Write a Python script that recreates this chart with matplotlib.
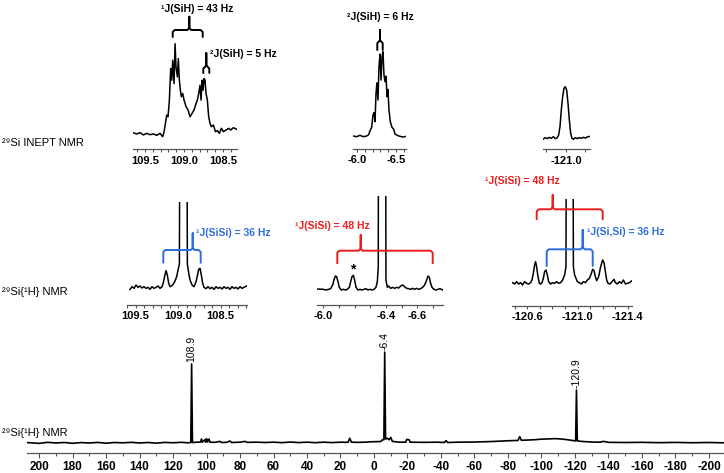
import matplotlib
matplotlib.use('Agg')
import matplotlib.pyplot as plt
from matplotlib.ticker import FixedLocator, MultipleLocator, FormatStrFormatter
import numpy as np

plt.rcParams['font.family'] = ['Liberation Sans', 'DejaVu Sans']
plt.rcParams['axes.unicode_minus'] = False

W, H = 724, 473

# 29Si INEPT, signal near 109 ppm
inept1_ppm = [109.658, 109.607, 109.564, 109.521, 109.479, 109.436, 109.393, 109.350, 109.308, 109.274,
              109.256, 109.239, 109.222, 109.205, 109.188, 109.171, 109.158, 109.145, 109.128, 109.115,
              109.103, 109.085, 109.073, 109.060, 109.047, 109.034, 109.017, 109.000, 108.974, 108.949,
              108.923, 108.897, 108.872, 108.846, 108.829, 108.812, 108.795, 108.782, 108.769, 108.756,
              108.744, 108.731, 108.718, 108.701, 108.684, 108.667, 108.650, 108.624, 108.598, 108.573,
              108.547, 108.521, 108.496, 108.462, 108.427, 108.402, 108.368, 108.325]
inept1_int = [0.004, -0.011, 0.004, -0.022, -0.004, -0.019, -0.011, -0.026, -0.004, -0.041,
              0.015, 0.107, 0.200, 0.181, 0.367, 0.719, 0.589, 0.811, 0.552, 0.996,
              0.737, 0.626, 0.830, 0.589, 0.478, 0.404, 0.441, 0.367, 0.293, 0.256,
              0.181, 0.219, 0.256, 0.330, 0.367, 0.441, 0.533, 0.367, 0.589, 0.478,
              0.607, 0.589, 0.441, 0.367, 0.181, 0.107, 0.070, 0.089, 0.015, 0.026,
              -0.004, 0.052, 0.015, 0.033, 0.052, 0.033, 0.059, 0.041]

# 29Si INEPT, signal near -6.4 ppm
inept2_ppm = [-5.953, -5.996, -6.038, -6.081, -6.124, -6.150, -6.167, -6.188, -6.205, -6.218,
              -6.231, -6.244, -6.256, -6.269, -6.282, -6.295, -6.308, -6.321, -6.333, -6.346,
              -6.359, -6.372, -6.385, -6.397, -6.410, -6.427, -6.449, -6.470, -6.487, -6.517,
              -6.551, -6.594, -6.628]
inept2_int = [0, -0.008, 0.008, -0.008, 0, 0.016, 0.063, 0.103, 0.249, 0.277,
              0.170, 0.506, 0.632, 0.427, 0.822, 0.972, 0.664, 0.941, 1.0, 0.723,
              0.644, 0.711, 0.466, 0.553, 0.308, 0.170, 0.103, 0.079, 0.024, 0.008,
              -0.004, -0.012, -0.004]

# 29Si INEPT, signal near -121 ppm
inept3_ppm = [-120.709, -120.735, -120.761, -120.786, -120.812, -120.838, -120.863, -120.889, -120.906, -120.923,
              -120.940, -120.957, -120.974, -120.991, -121.009, -121.026, -121.043, -121.060, -121.077, -121.094,
              -121.120, -121.145, -121.171, -121.197, -121.222, -121.248, -121.274, -121.308]
inept3_int = [-0.013, 0.013, -0.006, 0.019, 0, 0.032, -0.006, 0.013, 0.065, 0.226,
              0.548, 0.806, 0.968, 1.0, 0.935, 0.677, 0.355, 0.097, 0, -0.019,
              0.013, -0.006, 0.013, 0, 0.019, 0.006, 0.026, 0.039]

# 29Si{1H}, expansions (central lines run off scale)
dec1_ppm = [109.565, 109.541, 109.518, 109.494, 109.471, 109.447, 109.424, 109.400, 109.376, 109.353,
            109.329, 109.306, 109.282, 109.259, 109.235, 109.212, 109.188,
            109.173, 109.157, 109.141, 109.126, 109.110, 109.094, 109.078, 109.063, 109.039, 109.016, 109.000,
            108.984, 108.973, 108.902, 108.890,
            108.874, 108.859, 108.835, 108.812, 108.788, 108.773, 108.757, 108.741, 108.726, 108.710, 108.694, 108.671,
            108.647, 108.624, 108.600, 108.576, 108.553, 108.529, 108.506, 108.482, 108.459, 108.435,
            108.412, 108.388, 108.365, 108.341, 108.318, 108.294, 108.271, 108.247, 108.224,
            108.192]
dec1_int = [-0.03, 0.05, 0, 0.10, 0.03, 0.07, 0.01, 0.05, 0, 0.03, -0.03, 0.05, 0, 0.03, 0.07, 0, 0.05,
            0.17, 0.37, 0.53, 0.40, 0.15, 0.05, 0.07, 0.10, 0.20, 0.35, 0.55,
            0.73, 10, 10, 0.72,
            0.45, 0.25, 0.10, 0.05, 0.20, 0.37, 0.57, 0.60, 0.40, 0.15, 0.03, -0.01,
            0.05, -0.01, 0.03, -0.03, 0.05, 0, 0.03, -0.02, 0.05, 0,
            0.03, -0.03, 0.05, 0, 0.03, -0.02, 0.05, 0, 0.03,
            0.07]

dec2_ppm = [-5.960, -6.000, -6.017, -6.034, -6.047, -6.060, -6.068, -6.077, -6.085, -6.094, -6.102,
            -6.115, -6.128, -6.141, -6.153, -6.166, -6.175, -6.183, -6.192, -6.200, -6.209,
            -6.221, -6.234, -6.247, -6.260, -6.272, -6.285, -6.298, -6.311, -6.324, -6.336,
            -6.345, -6.351, -6.353, -6.396, -6.400, -6.409, -6.417, -6.430, -6.443, -6.455,
            -6.468, -6.481, -6.494, -6.507, -6.519, -6.532, -6.545, -6.558, -6.570, -6.583,
            -6.596, -6.609, -6.621, -6.634, -6.647, -6.660, -6.668, -6.677, -6.685, -6.694,
            -6.706, -6.719, -6.732, -6.745, -6.762]
dec2_int = [0.01, 0, -0.02, 0, 0.02, 0.13, 0.28, 0.40, 0.38, 0.23, 0.06,
            -0.02, 0, -0.02, 0, 0.06, 0.23, 0.38, 0.42, 0.28, 0.06,
            -0.02, 0, -0.02, 0, 0.02, -0.02, 0, -0.02, 0, 0.06,
            0.23, 0.68, 10, 10, 0.28, 0.06, 0.10, 0.03, 0.06, 0.03,
            0.06, 0.04, 0.10, 0.13, 0.08, 0.03, 0.02, 0, 0.03, 0,
            0.03, 0, 0.02, 0.06, 0.13, 0.28, 0.40, 0.36, 0.18, 0.06,
            0, -0.02, 0, 0.02, -0.02]

dec3_ppm = [-120.481, -120.497, -120.513, -120.529, -120.545, -120.561, -120.577, -120.593, -120.609, -120.625,
            -120.636, -120.647, -120.657, -120.665, -120.673, -120.684, -120.695, -120.705, -120.716, -120.727,
            -120.737, -120.748, -120.759, -120.769, -120.785, -120.801, -120.817, -120.833, -120.849, -120.865,
            -120.881, -120.897, -120.908, -120.913, -120.961, -120.967, -120.977, -120.988, -120.999, -121.015,
            -121.031, -121.047, -121.063, -121.079, -121.095, -121.111, -121.121, -121.132, -121.143, -121.153,
            -121.169, -121.185, -121.201, -121.212, -121.223, -121.233, -121.244, -121.260, -121.276, -121.292,
            -121.303, -121.319, -121.335, -121.351, -121.367, -121.383, -121.399, -121.415, -121.436]
dec3_int = [0.02, -0.02, 0.05, -0.02, 0.02, -0.05, 0.05, 0, -0.02, 0.02,
            0.10, 0.30, 0.55, 0.65, 0.50, 0.20, 0, -0.02, 0.02, 0.15,
            0.35, 0.40, 0.25, 0.05, -0.02, 0.02, 0, 0.05, 0, 0.02,
            0.10, 0.25, 0.50, 10, 10, 0.50, 0.25, 0.15, 0.05, 0.02,
            -0.02, 0.05, 0.02, 0.10, 0.15, 0.30, 0.42, 0.38, 0.20, 0.08,
            0.20, 0.50, 0.70, 0.62, 0.35, 0.10, 0, -0.02, 0.05, 0.12,
            0.02, -0.02, 0.05, 0, 0.10, -0.02, 0, 0.02, 0.08]

# full 29Si{1H} spectrum
full_ppm = [207, 200, 195, 190, 185, 180, 175, 170, 165, 160, 155, 150, 145, 140, 135, 130, 125, 120, 115, 111,
            109.4, 108.9, 108.4, 106, 103.5, 103, 102.5, 101, 100.5, 100, 99.5, 98.5, 98, 95, 92, 91,
            88, 86, 85, 80, 77, 76, 70, 65, 60, 55, 50, 45, 40, 35, 30, 25, 20, 15.5, 14.5, 13.5,
            10, 5, 2, -4, -5, -5.9, -6.4, -6.9, -8, -9, -10, -11, -15, -19, -19.5, -21, -21.5,
            -30, -38, -42, -43, -44, -50, -60, -70, -80, -86, -87, -88, -95, -100, -105, -108, -112,
            -116, -119, -120.4, -120.9, -121.4, -125, -130, -135, -137, -140, -150, -160, -170, -180,
            -190, -200, -209]
full_int = [0.005, -0.005, 0.008, 0, 0.006, -0.004, 0.005, 0, 0.007, -0.003, 0.006, 0.002, 0.008, 0, 0.006,
            -0.002, 0.007, 0.003, 0.008, 0.002,
            0.005, 1.0, 0.005, 0.01, 0.012, 0.05, 0.01, 0.04, 0.01, 0.055, 0.012, 0.05, 0.01, 0.008, 0.02, 0.006,
            0.008, 0.025, 0.006, 0.01, 0.02, 0.008, 0.01, 0.006, 0.01, 0.004, 0.012, 0.005, 0.01, 0.004, 0.01,
            0.005, 0.01, 0.008, 0.06, 0.01,
            0.008, 0.01, 0.015, 0.018, 0.04, 0.04, 1.15, 0.05, 0.06, 0.04, 0.07, 0.02, 0.01, 0.01, 0.045, 0.04, 0.01,
            0.008, 0.01, 0.006, 0.03, 0.006, 0.01, 0.012, 0.018, 0.028, 0.032, 0.08, 0.034, 0.04, 0.048, 0.052, 0.055, 0.05,
            0.04, 0.03, 0.026, 0.67, 0.026, 0.018, 0.012, 0.01, 0.02, 0.008, 0.006, 0.008, 0.004, 0.007,
            0.003, 0.006, 0.002]
full_labels = ['108.9', '-6.4', '-120.9']
full_label_ppm = [108.9, -6.4, -120.9]

RED = '#ee1c1c'
BLUE = '#2b6ee0'
AXC = '#555555'

fig = plt.figure(figsize=(W / 100, H / 100), dpi=100)


def panel(x0, x1, ytop, ybot, xlim, ylim, major, minor, fmt='%.1f', tick_px=3, lsize=8):
    ax = fig.add_axes([x0 / W, 1 - ybot / H, (x1 - x0) / W, (ybot - ytop) / H])
    ax.patch.set_alpha(0)
    for s in ('top', 'left', 'right'):
        ax.spines[s].set_visible(False)
    ax.spines['bottom'].set_color(AXC)
    ax.spines['bottom'].set_linewidth(0.9)
    ax.set_yticks([])
    ax.set_xlim(*xlim)
    ax.set_ylim(*ylim)
    ax.xaxis.set_major_locator(FixedLocator(major))
    if minor:
        ax.xaxis.set_minor_locator(MultipleLocator(minor))
    ax.xaxis.set_major_formatter(FormatStrFormatter(fmt))
    ax.tick_params(axis='x', which='both', direction='out', color=AXC, width=0.8,
                   length=tick_px * 0.72, pad=2.5, labelsize=lsize)
    for lab in ax.get_xticklabels():
        lab.set_fontweight('bold')
    return ax


# top row: INEPT
a = panel(132.7, 236.7, 35, 149.3, (109.658, 108.325), (-0.182, 1.093), [109.5, 109.0, 108.5], 0.1)
a.plot(inept1_ppm, inept1_int, color='black', lw=1.1)
b = panel(353.3, 406, 40, 149, (-5.953, -6.628), (-0.154, 1.139), [-6.0, -6.5], 0.1)
b.plot(inept2_ppm, inept2_int, color='black', lw=1.1)
c = panel(543.3, 590, 80, 149.3, (-120.709, -121.308), (-0.213, 1.13), [-120.75, -121.0, -121.25], None)
c.plot(inept3_ppm, inept3_int, color='black', lw=1.1)
c.set_xticklabels(['', '-121.0', ''])

# middle row: decoupled expansions
d = panel(126.7, 246.7, 201.7, 305, (109.604, 108.192), (-0.5, 2.6), [109.5, 109.0, 108.5], 0.1)
d.plot(dec1_ppm, dec1_int, color='black', lw=1.1)
e = panel(316.7, 443.3, 196, 305, (-5.958, -6.766), (-0.47, 2.8), [-6.0, -6.4, -6.6], 0.1)
e.plot(dec2_ppm, dec2_int, color='black', lw=1.1)
f = panel(511.7, 632.3, 199.3, 306, (-120.474, -121.438), (-0.68, 2.52), [-120.6, -121.0, -121.4], 0.1)
f.plot(dec3_ppm, dec3_int, color='black', lw=1.1)

# bottom: full spectrum
g = panel(27, 724, 325, 453, (207.2, -209), (-0.127, 1.494), list(range(200, -201, -20)), 10,
          fmt='%d', tick_px=5, lsize=8.5)
g.tick_params(axis='x', which='minor', length=2.2)
g.plot(full_ppm, full_int, color='black', lw=1.2)
rev_ppm = full_ppm[::-1]
rev_int = full_int[::-1]
for lab, p in zip(full_labels, full_label_ppm):
    h = np.interp(p, rev_ppm, rev_int)
    g.annotate(lab, xy=(p, h), xytext=(0, 1.5), textcoords='offset points', rotation=90,
               ha='center', va='bottom', fontsize=7.5)

# overlay for labels and coupling braces (pixel coordinates)
ov = fig.add_axes([0, 0, 1, 1])
ov.set_xlim(0, W)
ov.set_ylim(H, 0)
ov.axis('off')
ov.patch.set_alpha(0)


def brace(xa, xb, xs, y, yend, ytop, color):
    r = min(2.0, (xb - xa) / 4)
    xx = [xa, xa, xa + r, xs - r, xs, xs, xs, xs + r, xb - r, xb, xb]
    yy = [yend, y + r, y, y, y - r, ytop, y - r, y, y, y + r, yend]
    ov.plot(xx, yy, color=color, lw=1.4, solid_joinstyle='round', solid_capstyle='round')


def label(x, y, s, color='black', ha='center', size=7.5, weight='bold'):
    ov.text(x, y, s, color=color, ha=ha, va='center', fontsize=size, fontweight=weight)


label(2, 142.5, '²⁹Si INEPT NMR', ha='left', size=8, weight='normal')
label(2, 292, '²⁹Si{¹H} NMR', ha='left', size=8, weight='normal')
label(2, 433, '²⁹Si{¹H} NMR', ha='left', size=8, weight='normal')

brace(172.7, 202.7, 189.3, 30, 37, 16.7, 'black')
label(196.7, 8.5, '¹J(SiH) = 43 Hz')
brace(203.3, 209.3, 206.3, 67, 73, 53, 'black')
label(209.5, 54, '²J(SiH) = 5 Hz', ha='left')
brace(377.3, 382.7, 380, 41.7, 50, 30, 'black')
label(380, 17.5, '²J(SiH) = 6 Hz')

brace(163.3, 200.7, 192.7, 250, 262.7, 233.3, BLUE)
label(195.5, 233, '¹J(SiSi) = 36 Hz', color=BLUE, ha='left')

brace(337.3, 432.7, 360.7, 250.7, 263.3, 235, RED)
label(332, 226, '¹J(SiSi) = 48 Hz', color=RED)
label(352.7, 269, '*', size=10)

brace(536.7, 602.7, 552.7, 209.3, 219.3, 195, RED)
label(522, 181, '¹J(SiSi) = 48 Hz', color=RED)
brace(546.7, 592.7, 582.7, 249.3, 266, 230, BLUE)
label(587, 232, '¹J(Si,Si) = 36 Hz', color=BLUE, ha='left')

fig.savefig('out.png', dpi=100)
